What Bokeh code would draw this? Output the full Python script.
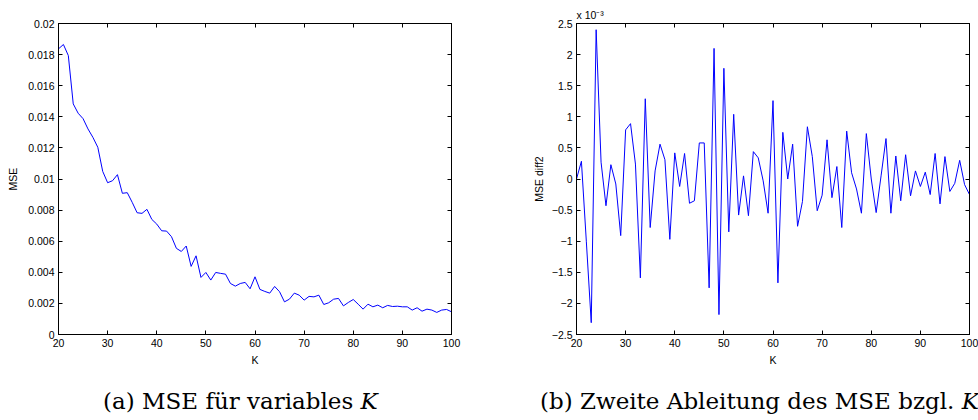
from bokeh.plotting import figure
from bokeh.models import LinearAxis, FixedTicker, Range1d, Div, Title
from bokeh.layouts import row, column
from bokeh.embed import file_html
from bokeh.resources import INLINE

# ---------------- data ----------------
K = list(range(20, 101))

mse = [0.01837, 0.01865, 0.01794, 0.01483, 0.01423, 0.01388, 0.01322, 0.01268, 0.01204, 0.01049,
       0.00976, 0.00989, 0.01028, 0.00908, 0.00912, 0.00850, 0.00783, 0.00779, 0.00805, 0.00740,
       0.00710, 0.00667, 0.00665, 0.00629, 0.00554, 0.00534, 0.00569, 0.00438, 0.00506, 0.00367,
       0.00399, 0.00350, 0.00399, 0.00393, 0.00388, 0.00328, 0.00311, 0.00328, 0.00335, 0.00294,
       0.00371, 0.00290, 0.00277, 0.00266, 0.00309, 0.00275, 0.00210, 0.00227, 0.00266, 0.00253,
       0.00221, 0.00245, 0.00242, 0.00253, 0.00193, 0.00204, 0.00227, 0.00232, 0.00184, 0.00206,
       0.00225, 0.00195, 0.00163, 0.00195, 0.00178, 0.00189, 0.00172, 0.00187, 0.00180, 0.00182,
       0.00178, 0.00178, 0.00157, 0.00172, 0.00150, 0.00163, 0.00157, 0.00142, 0.00157, 0.00161,
       0.00146]

# second derivative of MSE, in units of 1e-3
mse_diff2 = [0.0, 0.285, -1.0, -2.31, 2.40, 0.27, -0.43, 0.23, -0.08, -0.91,
             0.79, 0.89, 0.24, -1.59, 1.29, -0.78, 0.13, 0.56, 0.31, -0.97,
             0.42, -0.12, 0.41, -0.39, -0.35, 0.58, 0.58, -1.75, 2.10, -2.18,
             1.78, -0.85, 1.04, -0.58, 0.05, -0.59, 0.44, 0.34, -0.03, -0.55,
             1.26, -1.67, 0.75, 0.0, 0.56, -0.76, -0.36, 0.84, 0.36, -0.51,
             -0.26, 0.63, -0.30, 0.20, -0.78, 0.77, 0.10, -0.16, -0.55, 0.73,
             0.0, -0.54, 0.05, 0.65, -0.55, 0.37, -0.35, 0.39, -0.27, 0.13,
             -0.12, 0.11, -0.25, 0.41, -0.40, 0.36, -0.20, -0.07, 0.30, -0.09,
             -0.25]

x_ticks = [20, 30, 40, 50, 60, 70, 80, 90, 100]
x_labels = ["20", "30", "40", "50", "60", "70", "80", "90", "100"]

y1_ticks = [0, 0.002, 0.004, 0.006, 0.008, 0.01, 0.012, 0.014, 0.016, 0.018, 0.02]
y1_labels = ["0", "0.002", "0.004", "0.006", "0.008", "0.01", "0.012", "0.014", "0.016", "0.018", "0.02"]

y2_ticks = [-2.5, -2, -1.5, -1, -0.5, 0, 0.5, 1, 1.5, 2, 2.5]
y2_labels = ["\u22122.5", "\u22122", "\u22121.5", "\u22121", "\u22120.5", "0", "0.5", "1", "1.5", "2", "2.5"]

exponent_text = "x 10\u207b\u00b3"
caption_a = "(a) MSE f\u00fcr variables <i>K</i>"
caption_b = "(b) Zweite Ableitung des MSE bzgl. <i>K</i>"

FONT = "Liberation Sans"
TICK_FS = "10.5px"
CAP_FONT = "DejaVu Serif"
CAP_FS = "23px"


def make_fig(yr, yticks, ylabels, ylabel, mb_left, mb_right, ylab_standoff):
    p = figure(frame_width=393, frame_height=311, x_range=Range1d(20, 100), y_range=Range1d(*yr),
               output_backend="svg", toolbar_location=None,
               min_border_left=mb_left, min_border_right=mb_right,
               min_border_top=23, min_border_bottom=38,
               background_fill_color="white", border_fill_color="white")
    p.grid.visible = False
    p.outline_line_color = "black"
    p.outline_line_width = 1

    xa = p.xaxis[0]
    ya = p.yaxis[0]
    xa.ticker = FixedTicker(ticks=x_ticks)
    xa.major_label_overrides = {t: l for t, l in zip(x_ticks, x_labels)}
    ya.ticker = FixedTicker(ticks=yticks)
    ya.major_label_overrides = {t: l for t, l in zip(yticks, ylabels)}
    xa.axis_label = "K"
    ya.axis_label = ylabel
    for ax in (xa, ya):
        ax.axis_line_color = "black"
        ax.major_tick_line_color = "black"
        ax.major_tick_in = 4
        ax.major_tick_out = 0
        ax.minor_tick_line_color = None
        ax.major_label_text_font = FONT
        ax.major_label_text_font_size = TICK_FS
        ax.major_label_text_color = "black"
        ax.axis_label_text_font = FONT
        ax.axis_label_text_font_size = TICK_FS
        ax.axis_label_text_font_style = "normal"
        ax.axis_label_text_color = "black"
    xa.major_label_standoff = 4
    xa.axis_label_standoff = 4
    ya.major_label_standoff = 4
    ya.axis_label_standoff = ylab_standoff

    ra = LinearAxis(ticker=FixedTicker(ticks=yticks))
    ra.major_label_overrides = {t: "" for t in yticks}
    ta = LinearAxis(ticker=FixedTicker(ticks=x_ticks))
    ta.major_label_overrides = {t: "" for t in x_ticks}
    for ax in (ra, ta):
        ax.axis_line_color = "black"
        ax.major_tick_line_color = "black"
        ax.major_tick_in = 4
        ax.major_tick_out = 0
        ax.minor_tick_line_color = None
        ax.major_label_text_font_size = TICK_FS
        ax.major_label_standoff = 0
    p.add_layout(ra, "right")
    p.add_layout(ta, "above")
    return p


p1 = make_fig((0, 0.02), y1_ticks, y1_labels, "MSE", 58, 38, 6)
p1.line(K, mse, line_color="#0000ff", line_width=1)

p2 = make_fig((-2.5, 2.5), y2_ticks, y2_labels, "MSE diff2", 87, 9, 4)
p2.line(K, mse_diff2, line_color="#0000ff", line_width=1)
p2.add_layout(Title(text=exponent_text, align="left", text_font=FONT, text_font_size=TICK_FS,
                    text_font_style="normal", text_color="black", standoff=5), "above")

cap_style = {"font-family": CAP_FONT, "font-size": CAP_FS, "line-height": "26px",
             "white-space": "nowrap", "color": "black"}
div_a = Div(text=caption_a, width=489, height=44, margin=0,
            styles=dict(cap_style, **{"padding-left": "103px", "padding-top": "16px"}))
div_b = Div(text=caption_b, width=489, height=44, margin=0,
            styles=dict(cap_style, **{"padding-left": "51px", "padding-top": "16px"}))

layout = column(row(p1, p2, spacing=0), row(div_a, div_b, spacing=0), spacing=0)

open("out.html", "w").write(file_html(layout, INLINE))
